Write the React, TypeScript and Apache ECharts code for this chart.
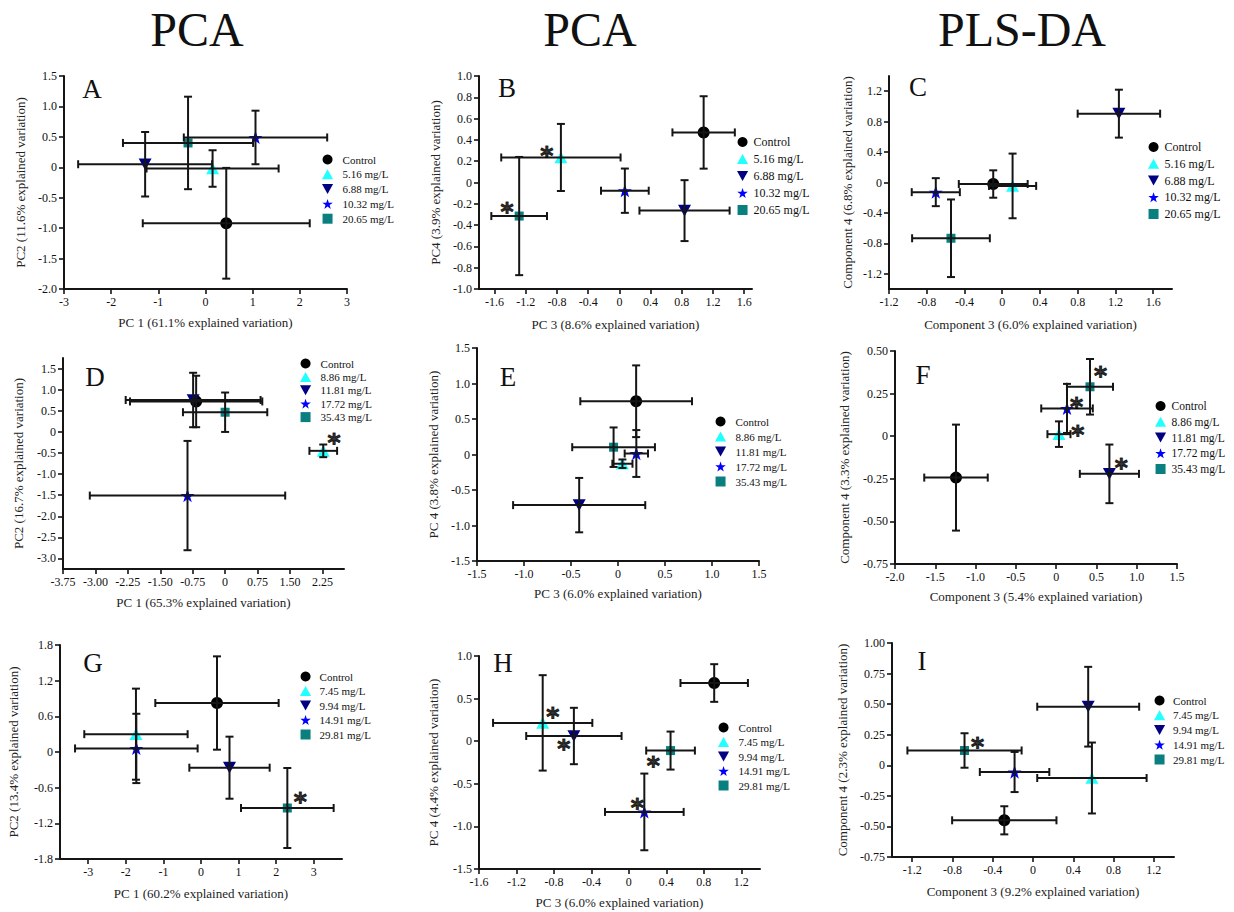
import React, { useEffect, useRef } from "react";
import * as echarts from "echarts";

const SERIF = "'Liberation Serif', 'Times New Roman', serif";

// ---------- groups (legend labels) ----------
const ROW1_GROUPS = ["Control", "5.16 mg/L", "6.88 mg/L", "10.32 mg/L", "20.65 mg/L"];
const ROW2_GROUPS = ["Control", "8.86 mg/L", "11.81 mg/L", "17.72 mg/L", "35.43 mg/L"];
const ROW3_GROUPS = ["Control", "7.45 mg/L", "9.94 mg/L", "14.91 mg/L", "29.81 mg/L"];

const COLUMN_TITLES = ["PCA", "PCA", "PLS-DA"];

// ---------- Panel A ----------
const A_X = [0.44, 0.15, -1.28, 1.06, -0.37];
const A_Y = [-0.92, -0.02, 0.05, 0.49, 0.4];
const A_XERR = [1.77, 1.4, 1.42, 1.52, 1.38];
const A_YERR = [0.91, 0.3, 0.53, 0.44, 0.76];
const A_AST_X: number[] = [];
const A_AST_Y: number[] = [];
const A_XTICKS = [-3, -2, -1, 0, 1, 2, 3];
const A_YTICKS = [-2, -1.5, -1, -0.5, 0, 0.5, 1, 1.5];

// ---------- Panel B ----------
const B_X = [1.08, -0.75, 0.835, 0.07, -1.285];
const B_Y = [0.47, 0.235, -0.264, -0.077, -0.315];
const B_XERR = [0.4, 0.765, 0.578, 0.306, 0.357];
const B_YERR = [0.34, 0.315, 0.286, 0.208, 0.555];
const B_AST_X = [-0.93, -1.44];
const B_AST_Y = [0.3, -0.23];
const B_XTICKS = [-1.6, -1.2, -0.8, -0.4, 0, 0.4, 0.8, 1.2, 1.6];
const B_YTICKS = [-1, -0.8, -0.6, -0.4, -0.2, 0, 0.2, 0.4, 0.6, 0.8, 1];

// ---------- Panel C ----------
const C_X = [-0.095, 0.11, 1.237, -0.704, -0.543];
const C_Y = [-0.02, -0.045, 0.905, -0.127, -0.733];
const C_XERR = [0.365, 0.25, 0.437, 0.255, 0.412];
const C_YERR = [0.18, 0.425, 0.315, 0.184, 0.51];
const C_AST_X: number[] = [];
const C_AST_Y: number[] = [];
const C_XTICKS = [-1.2, -0.8, -0.4, 0, 0.4, 0.8, 1.2, 1.6];
const C_YTICKS = [-1.2, -0.8, -0.4, 0, 0.4, 0.8, 1.2];

// ---------- Panel D ----------
const D_X = [-0.67, 2.27, -0.74, -0.87, 0.0];
const D_Y = [0.72, -0.45, 0.755, -1.51, 0.465];
const D_XERR = [1.53, 0.32, 1.56, 2.26, 0.975];
const D_YERR = [0.61, 0.15, 0.645, 1.295, 0.467];
const D_AST_X = [2.52];
const D_AST_Y = [-0.14];
const D_XTICKS = [-3.75, -3, -2.25, -1.5, -0.75, 0, 0.75, 1.5, 2.25];
const D_YTICKS = [-3, -2.5, -2, -1.5, -1, -0.5, 0, 0.5, 1, 1.5];

// ---------- Panel E ----------
const E_X = [0.193, 0.047, -0.413, 0.195, -0.047];
const E_Y = [0.75, -0.13, -0.713, 0.014, 0.103];
const E_XERR = [0.594, 0.107, 0.703, 0.124, 0.44];
const E_YERR = [0.505, 0.06, 0.383, 0.33, 0.278];
const E_AST_X: number[] = [];
const E_AST_Y: number[] = [];
const E_XTICKS = [-1.5, -1, -0.5, 0, 0.5, 1, 1.5];
const E_YTICKS = [-1.5, -1, -0.5, 0, 0.5, 1, 1.5];

// ---------- Panel F ----------
const F_X = [-1.243, 0.035, 0.661, 0.135, 0.42];
const F_Y = [-0.243, 0.012, -0.221, 0.163, 0.29];
const F_XERR = [0.394, 0.143, 0.367, 0.32, 0.286];
const F_YERR = [0.311, 0.075, 0.172, 0.144, 0.163];
const F_AST_X = [0.55, 0.253, 0.27, 0.808];
const F_AST_Y = [0.387, 0.205, 0.039, -0.157];
const F_XTICKS = [-2, -1.5, -1, -0.5, 0, 0.5, 1, 1.5];
const F_YTICKS = [-0.75, -0.5, -0.25, 0, 0.25, 0.5];

// ---------- Panel G ----------
const G_X = [0.425, -1.73, 0.758, -1.72, 2.296];
const G_Y = [0.824, 0.3, -0.264, 0.06, -0.942];
const G_XERR = [1.64, 1.374, 1.068, 1.63, 1.232];
const G_YERR = [0.785, 0.766, 0.522, 0.583, 0.673];
const G_AST_X = [2.64];
const G_AST_Y = [-0.746];
const G_XTICKS = [-3, -2, -1, 0, 1, 2, 3];
const G_YTICKS = [-1.8, -1.2, -0.6, 0, 0.6, 1.2, 1.8];

// ---------- Panel H ----------
const H_X = [0.911, -0.92, -0.587, 0.165, 0.445];
const H_Y = [0.683, 0.215, 0.061, -0.83, -0.11];
const H_XERR = [0.36, 0.53, 0.509, 0.42, 0.26];
const H_YERR = [0.221, 0.56, 0.331, 0.45, 0.223];
const H_AST_X = [-0.811, -0.694, 0.26, 0.089];
const H_AST_Y = [0.345, -0.027, -0.223, -0.725];
const H_XTICKS = [-1.6, -1.2, -0.8, -0.4, 0, 0.4, 0.8, 1.2];
const H_YTICKS = [-1.5, -1, -0.5, 0, 0.5, 1];

// ---------- Panel I ----------
const I_X = [-0.285, 0.585, 0.548, -0.183, -0.68];
const I_Y = [-0.45, -0.104, 0.479, -0.055, 0.121];
const I_XERR = [0.518, 0.543, 0.506, 0.345, 0.567];
const I_YERR = [0.115, 0.29, 0.326, 0.164, 0.141];
const I_AST_X = [-0.551];
const I_AST_Y = [0.197];
const I_XTICKS = [-1.2, -0.8, -0.4, 0, 0.4, 0.8, 1.2];
const I_YTICKS = [-0.75, -0.5, -0.25, 0, 0.25, 0.5, 0.75, 1];

// ---------- panel definitions (data + axis ranges + names) ----------
const PANELS = [
  { key: "A", groups: ROW1_GROUPS, x: A_X, y: A_Y, xe: A_XERR, ye: A_YERR, ax: A_AST_X, ay: A_AST_Y,
    xr: [-3, 3], yr: [-2, 1.5], xt: A_XTICKS, yt: A_YTICKS, xd: 0, yd: 1,
    xName: "PC 1 (61.1% explained variation)", yName: "PC2 (11.6% explained variation)" },
  { key: "B", groups: ROW1_GROUPS, x: B_X, y: B_Y, xe: B_XERR, ye: B_YERR, ax: B_AST_X, ay: B_AST_Y,
    xr: [-1.8, 1.7], yr: [-1, 1], xt: B_XTICKS, yt: B_YTICKS, xd: 1, yd: 1,
    xName: "PC 3 (8.6% explained variation)", yName: "PC4 (3.9% explained variation)" },
  { key: "C", groups: ROW1_GROUPS, x: C_X, y: C_Y, xe: C_XERR, ye: C_YERR, ax: C_AST_X, ay: C_AST_Y,
    xr: [-1.2, 1.8], yr: [-1.4, 1.4], xt: C_XTICKS, yt: C_YTICKS, xd: 1, yd: 1,
    xName: "Component 3 (6.0% explained variation)", yName: "Component 4 (6.8% explained variation)" },
  { key: "D", groups: ROW2_GROUPS, x: D_X, y: D_Y, xe: D_XERR, ye: D_YERR, ax: D_AST_X, ay: D_AST_Y,
    xr: [-3.75, 2.75], yr: [-3.25, 1.75], xt: D_XTICKS, yt: D_YTICKS, xd: 2, yd: 1,
    xName: "PC 1 (65.3% explained variation)", yName: "PC2 (16.7% explained variation)" },
  { key: "E", groups: ROW2_GROUPS, x: E_X, y: E_Y, xe: E_XERR, ye: E_YERR, ax: E_AST_X, ay: E_AST_Y,
    xr: [-1.5, 1.5], yr: [-1.5, 1.5], xt: E_XTICKS, yt: E_YTICKS, xd: 1, yd: 1,
    xName: "PC 3 (6.0% explained variation)", yName: "PC 4 (3.8% explained variation)" },
  { key: "F", groups: ROW2_GROUPS, x: F_X, y: F_Y, xe: F_XERR, ye: F_YERR, ax: F_AST_X, ay: F_AST_Y,
    xr: [-2, 1.5], yr: [-0.75, 0.5], xt: F_XTICKS, yt: F_YTICKS, xd: 1, yd: 2,
    xName: "Component 3 (5.4% explained variation)", yName: "Component 4 (3.3% explained variation)" },
  { key: "G", groups: ROW3_GROUPS, x: G_X, y: G_Y, xe: G_XERR, ye: G_YERR, ax: G_AST_X, ay: G_AST_Y,
    xr: [-3.75, 3.75], yr: [-1.8, 1.8], xt: G_XTICKS, yt: G_YTICKS, xd: 0, yd: 1,
    xName: "PC 1 (60.2% explained variation)", yName: "PC2 (13.4% explained variation)" },
  { key: "H", groups: ROW3_GROUPS, x: H_X, y: H_Y, xe: H_XERR, ye: H_YERR, ax: H_AST_X, ay: H_AST_Y,
    xr: [-1.6, 1.4], yr: [-1.5, 1], xt: H_XTICKS, yt: H_YTICKS, xd: 1, yd: 1,
    xName: "PC 3 (6.0% explained variation)", yName: "PC 4 (4.4% explained variation)" },
  { key: "I", groups: ROW3_GROUPS, x: I_X, y: I_Y, xe: I_XERR, ye: I_YERR, ax: I_AST_X, ay: I_AST_Y,
    xr: [-1.4, 1.4], yr: [-0.75, 1], xt: I_XTICKS, yt: I_YTICKS, xd: 1, yd: 2,
    xName: "Component 3 (9.2% explained variation)", yName: "Component 4 (2.3% explained variation)" },
];

// ---------- layout (positions / sizes) ----------
const LAYOUT: Record<string, any> = {
  A: { grid: [64, 76, 283, 213], xGap: 27, yGap: 37, letter: [92, 89], lg: { left: 322, top: 154, w: 20, gap: 3.8, fs: 11 } },
  B: { grid: [479, 76, 273, 213], xGap: 29, yGap: 37, letter: [507, 88], lg: { left: 737, top: 136, w: 12, gap: 5, fs: 12 } },
  C: { grid: [889, 76, 283, 213], xGap: 29, yGap: 35, letter: [918, 87], lg: { left: 1148, top: 141, w: 12, gap: 4.75, fs: 12 } },
  D: { grid: [63, 358, 281, 211], xGap: 27, yGap: 38, letter: [95, 377], lg: { left: 300, top: 358, w: 20, gap: 2.4, fs: 11 } },
  E: { grid: [477, 348, 282, 213], xGap: 26, yGap: 37, letter: [508, 377], lg: { left: 715, top: 416, w: 20, gap: 4, fs: 11 } },
  F: { grid: [895, 351, 282, 213], xGap: 26, yGap: 44, letter: [923, 375], lg: { left: 1155, top: 400, w: 12, gap: 3.75, fs: 11.5 } },
  G: { grid: [60, 645, 282, 214], xGap: 28, yGap: 40, letter: [93, 663], lg: { left: 300, top: 671, w: 18, gap: 3.5, fs: 11 } },
  H: { grid: [479, 656, 281, 213], xGap: 27, yGap: 39, letter: [503, 663], lg: { left: 718, top: 722, w: 20, gap: 3.5, fs: 11 } },
  I: { grid: [892, 643, 282, 214], xGap: 28, yGap: 43, letter: [922, 661], lg: { left: 1154, top: 695, w: 17, gap: 3.75, fs: 11 } },
};
const TITLE_POS = [[197, 29], [590, 29], [1022, 29]];

const STAR =
  "path://M50,0 L61.8,35.1 L98.1,35.1 L68.8,56.7 L79.4,91.3 L50,70 L20.6,91.3 L31.2,56.7 L1.9,35.1 L38.2,35.1 Z";
const TRI_UP = "path://M10,0 L20,18 L0,18 Z";
const TRI_DOWN = "path://M0,0 L20,0 L10,18 Z";
const SQUARE = "path://M0,0 L10,0 L10,10 L0,10 Z";

const GROUP_STYLES = [
  { symbol: "circle", size: 12, color: "#000000" },
  { symbol: TRI_UP, size: 13, color: "#22FFFF" },
  { symbol: TRI_DOWN, size: 13, color: "#000080" },
  { symbol: STAR, size: 14, color: "#0000FF" },
  { symbol: SQUARE, size: 9, color: "#0A7F7F" },
];

const AXIS_COLOR = "#151515";
const BAR_COLOR = "#151515";

function fmt(v: number, d: number) {
  if (Math.abs(v) < 1e-9) return "0";
  return v.toFixed(d);
}

function buildOption() {
  const grid: any[] = [];
  const xAxis: any[] = [];
  const yAxis: any[] = [];
  const series: any[] = [];
  const legend: any[] = [];
  const graphic: any[] = [];

  COLUMN_TITLES.forEach((t, i) => {
    graphic.push({
      type: "text",
      x: TITLE_POS[i][0],
      y: TITLE_POS[i][1],
      style: { text: t, fontFamily: SERIF, fontSize: 48, fill: "#111", textAlign: "center", textVerticalAlign: "middle" },
    });
  });

  PANELS.forEach((p, i) => {
    const L = LAYOUT[p.key];
    const [gl, gt, gw, gh] = L.grid;
    grid.push({ left: gl, top: gt, width: gw, height: gh, containLabel: false });

    const axisCommon = (ticks: number[], dec: number) => ({
      type: "value",
      gridIndex: i,
      axisLine: { show: true, onZero: false, lineStyle: { color: AXIS_COLOR, width: 2 } },
      axisTick: { show: true, inside: false, length: 5, customValues: ticks, lineStyle: { color: AXIS_COLOR, width: 1.6 } },
      axisLabel: {
        customValues: ticks,
        formatter: (v: number) => fmt(v, dec),
        fontFamily: SERIF,
        fontSize: 12,
        color: "#111",
        margin: 7,
      },
      splitLine: { show: false },
      nameLocation: "middle",
      nameTextStyle: { fontFamily: SERIF, fontSize: 13, color: "#222" },
    });

    xAxis.push({ ...axisCommon(p.xt, p.xd), min: p.xr[0], max: p.xr[1], name: p.xName, nameGap: L.xGap });
    yAxis.push({ ...axisCommon(p.yt, p.yd), min: p.yr[0], max: p.yr[1], name: p.yName, nameGap: L.yGap });

    p.groups.forEach((g, k) => {
      const st = GROUP_STYLES[k];
      series.push({
        type: "scatter",
        name: g,
        xAxisIndex: i,
        yAxisIndex: i,
        symbol: st.symbol,
        symbolSize: st.size,
        symbolKeepAspect: true,
        itemStyle: { color: st.color, opacity: 1 },
        emphasis: { disabled: true },
        data: [[p.x[k], p.y[k]]],
        z: 2,
      });
    });

    series.push({
      type: "custom",
      name: "errorbars-" + p.key,
      xAxisIndex: i,
      yAxisIndex: i,
      encode: { x: 0, y: 1 },
      silent: true,
      z: 3,
      data: p.x.map((xv, k) => [xv, p.y[k], p.xe[k], p.ye[k]]),
      renderItem: (_params: any, api: any) => {
        const x = api.value(0);
        const y = api.value(1);
        const ex = api.value(2);
        const ey = api.value(3);
        const l = api.coord([x - ex, y]);
        const r = api.coord([x + ex, y]);
        const t = api.coord([x, y + ey]);
        const b = api.coord([x, y - ey]);
        const c = 4;
        const style = { stroke: BAR_COLOR, lineWidth: 2 };
        const ln = (x1: number, y1: number, x2: number, y2: number) => ({
          type: "line",
          shape: { x1, y1, x2, y2 },
          style,
        });
        return {
          type: "group",
          children: [
            ln(l[0], l[1], r[0], r[1]),
            ln(l[0], l[1] - c, l[0], l[1] + c),
            ln(r[0], r[1] - c, r[0], r[1] + c),
            ln(t[0], t[1], b[0], b[1]),
            ln(t[0] - c, t[1], t[0] + c, t[1]),
            ln(b[0] - c, b[1], b[0] + c, b[1]),
          ],
        };
      },
    });

    if (p.ax.length) {
      series.push({
        type: "scatter",
        name: "asterisk-" + p.key,
        xAxisIndex: i,
        yAxisIndex: i,
        symbol: "circle",
        symbolSize: 1,
        itemStyle: { color: "rgba(0,0,0,0)" },
        silent: true,
        z: 4,
        data: p.ax.map((xv, k) => [xv, p.ay[k]]),
        label: {
          show: true,
          position: "inside",
          formatter: "*",
          fontFamily: "'DejaVu Sans', sans-serif",
          fontWeight: "bold",
          fontSize: 25,
          color: "#000",
          textBorderColor: "#000",
          textBorderWidth: 1,
          offset: [0, 5],
        },
      });
    }

    legend.push({
      data: p.groups,
      orient: "vertical",
      left: L.lg.left,
      top: L.lg.top,
      padding: 0,
      itemWidth: L.lg.w,
      itemHeight: 10,
      itemGap: L.lg.gap,
      selectedMode: false,
      textStyle: { fontFamily: SERIF, fontSize: L.lg.fs, color: "#111", lineHeight: 10 },
    });

    graphic.push({
      type: "text",
      x: L.letter[0],
      y: L.letter[1],
      style: { text: p.key, fontFamily: SERIF, fontSize: 27, fill: "#111", textAlign: "center", textVerticalAlign: "middle" },
    });
  });

  return {
    animation: false,
    backgroundColor: "#ffffff",
    grid,
    xAxis,
    yAxis,
    series,
    legend,
    graphic,
  };
}

export default function App() {
  const ref = useRef<HTMLDivElement>(null);
  useEffect(() => {
    if (!ref.current) return;
    const chart = echarts.init(ref.current, undefined, { renderer: "svg" });
    chart.setOption(buildOption() as any);
    return () => chart.dispose();
  }, []);
  return (
    <div
      ref={ref}
      style={{ position: "absolute", left: 0, top: 0, width: 1234, height: 912, background: "#fff" }}
    />
  );
}
